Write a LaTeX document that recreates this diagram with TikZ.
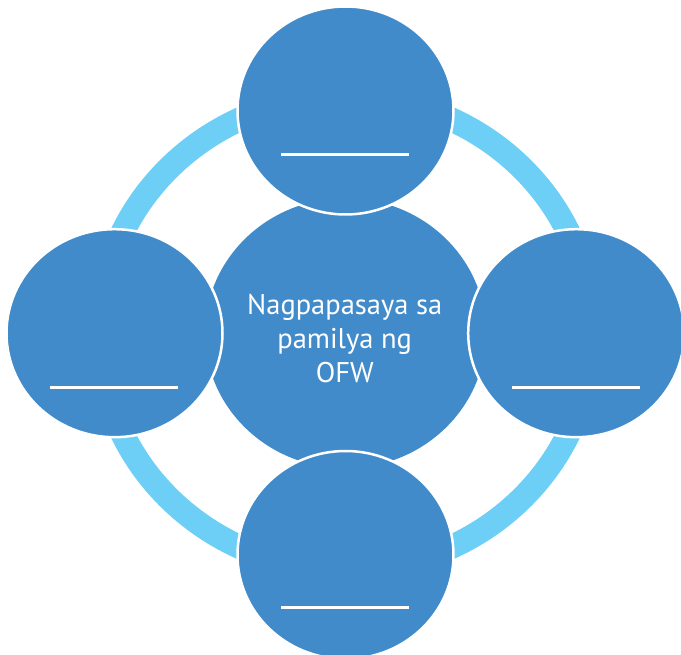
\documentclass[tikz,border=0pt]{standalone}
\usepackage{fontspec}
\setmainfont{PT Sans}
\usetikzlibrary{shapes.geometric}
\definecolor{circblue}{RGB}{66,139,202}
\definecolor{ringblue}{RGB}{109,207,246}
\tikzset{
  sat/.style={ellipse, fill=circblue, draw=white, line width=2.5pt,
    minimum width=216pt, minimum height=208pt, inner sep=0pt},
  hub/.style={ellipse, fill=circblue, minimum width=281pt, minimum height=270pt, inner sep=0pt},
  blank/.style={draw=white, line width=2.5pt},
  ring/.style={draw=ringblue, line width=24pt},
  hubtext/.style={text=white, align=center, inner sep=0pt,
    font=\fontsize{28.5}{33.7}\selectfont}
}
\begin{document}
\begin{tikzpicture}[x=1pt,y=-1pt]
\useasboundingbox (0,0) rectangle (681,655);
\coordinate (mid) at (345.5,333.2);
\draw[ring] (mid) ellipse [x radius=246.3pt, y radius=236.7pt];
\node[hub] (hub) at (mid) {};
\node[sat] (top) at (345.5,110.5) {};
\node[sat] (left) at (114.5,333.2) {};
\node[sat] (right) at (576.2,333.2) {};
\node[sat] (bottom) at (345.5,555) {};
\node[hubtext] (label) at (344.7,338.4) {Nagpapasaya sa\\pamilya ng\\OFW};
\draw[blank] (top.center) ++(-64.5,43.8) -- ++(128,0);
\draw[blank] (left.center) ++(-64.5,54.1) -- ++(127.7,0);
\draw[blank] (right.center) ++(-63.9,54.1) -- ++(127.7,0);
\draw[blank] (bottom.center) ++(-64.5,52.3) -- ++(128,0);
\end{tikzpicture}
\end{document}
